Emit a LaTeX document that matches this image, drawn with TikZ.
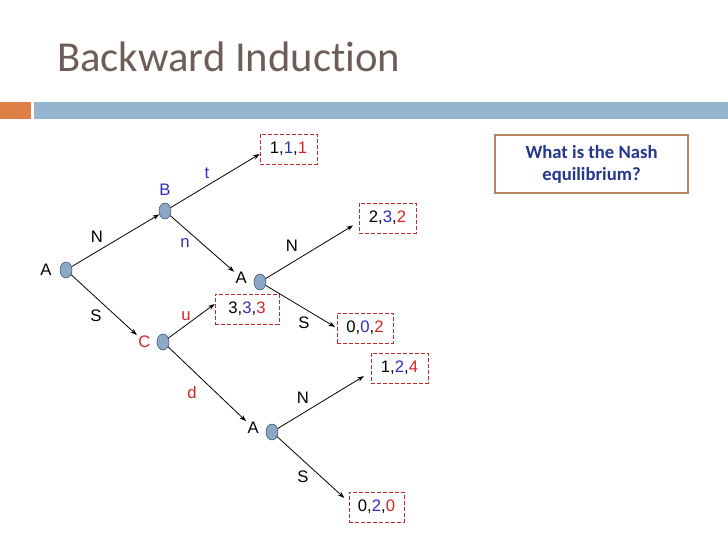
\documentclass[tikz,border=0pt]{standalone}
\usepackage{fontspec}
\setmainfont{Liberation Sans}
\newfontfamily\titlefont[Ligatures=NoCommon]{Carlito}
\usetikzlibrary{arrows.meta,shapes.geometric,positioning}
\definecolor{myblue}{RGB}{45,45,190}
\definecolor{myred}{RGB}{215,35,35}
\definecolor{nodefill}{RGB}{140,168,200}
\definecolor{nodeline}{RGB}{60,75,95}
\definecolor{titlegray}{RGB}{110,92,88}
\definecolor{barorange}{RGB}{222,128,70}
\definecolor{barblue}{RGB}{148,180,208}
\definecolor{boxred}{RGB}{190,45,45}
\definecolor{qbrown}{RGB}{185,135,95}
\definecolor{qblue}{RGB}{35,55,140}
\newcommand{\payoff}[3]{#1,\textcolor{myblue}{#2},\textcolor{myred}{#3}}

\begin{document}
\begin{tikzpicture}[x=0.75pt,y=0.75pt,
  every node/.style={font=\fontsize{12.5}{14}\selectfont},
  dec/.style={ellipse,draw=nodeline,fill=nodefill,minimum width=9pt,minimum height=12pt,inner sep=0pt},
  pay/.style={draw=boxred,dash pattern=on 3pt off 1.5pt,minimum height=22.5pt,inner sep=2pt},
  lab/.style={inner sep=1pt},
  arr/.style={-{Stealth[length=5pt,width=3.5pt]},line width=0.6pt}]
\useasboundingbox (0,0) rectangle (728,546);
% title and bar
\node[anchor=base west,inner sep=0pt,text=titlegray,font=\titlefont\fontsize{32}{38}\selectfont] (title) at (57,474) {Backward Induction};
\fill[barorange] (0,427) rectangle (31,444);
\fill[barblue] (34,427) rectangle (728,444);
% question
\node[draw=qbrown,line width=1.2pt,minimum width=144.75pt,minimum height=43.5pt,align=center,text=qblue,font=\titlefont\bfseries\fontsize{14}{16.5}\selectfont] (quest) at (591.5,382) {What is the Nash\\equilibrium?};
% decision nodes
\foreach \n/\x/\y in {A0/66/276,B/165/335,C/163/204,A1/260/264,A2/272/114}
  {\node[dec] (\n) at (\x,\y) {};}
% players
\node[lab,left=5pt of A0] (lA0) {A};
\node[lab,above=4pt of B,text=myblue] (lB) {B};
\node[lab,left=3.5pt of C,text=myred] (lC) {C};
\node[lab,left=4pt of A1,yshift=3pt] (lA1) {A};
\node[lab,left=4pt of A2,yshift=3pt] (lA2) {A};
% payoffs
\foreach \n/\x/\y/\w/\a/\b/\c in {p111/288.5/397/42.75pt/1/1/1,p232/387.5/328/42.75pt/2/3/2,
    p333/247/237/48pt/3/3/3,p002/365/218/42pt/0/0/2,p124/399.5/178/42.75pt/1/2/4,p020/376.5/39/41.25pt/0/2/0}
  {\node[pay,minimum width=\w] (\n) at (\x,\y) {\payoff{\a}{\b}{\c}};}
% actions
\node[lab] (actN0) at (97,309) {N};
\node[lab] (actS0) at (96,230) {S};
\node[lab,text=myblue] (actT) at (207,373) {t};
\node[lab,text=myblue] (actn) at (185,303) {n};
\node[lab,text=myred] (actU) at (186,230) {u};
\node[lab,text=myred] (actD) at (192,153) {d};
\node[lab] (actN1) at (292,300) {N};
\node[lab] (actS1) at (304,223) {S};
\node[lab] (actN2) at (303,148) {N};
\node[lab] (actS2) at (303,69) {S};
% branches
\draw[arr] (A0) -- (B);
\draw[arr] (A0) -- (lC);
\draw[arr] (B) -- ([yshift=-3.75pt]p111.west);
\draw[arr] (B) -- (lA1);
\draw[arr] (C) -- ([yshift=3.75pt]p333.west);
\draw[arr] (C) -- (lA2);
\draw[arr,shorten >=5pt] (A1) -- ([yshift=-3pt]p232.west);
\draw[arr,shorten >=1.5pt] (A1) -- (p002.west);
\draw[arr,shorten >=6pt] (A2) -- ([yshift=-3pt]p124.west);
\draw[arr,shorten >=4.5pt] (A2) -- ([yshift=3.75pt]p020.west);
\end{tikzpicture}
\end{document}
